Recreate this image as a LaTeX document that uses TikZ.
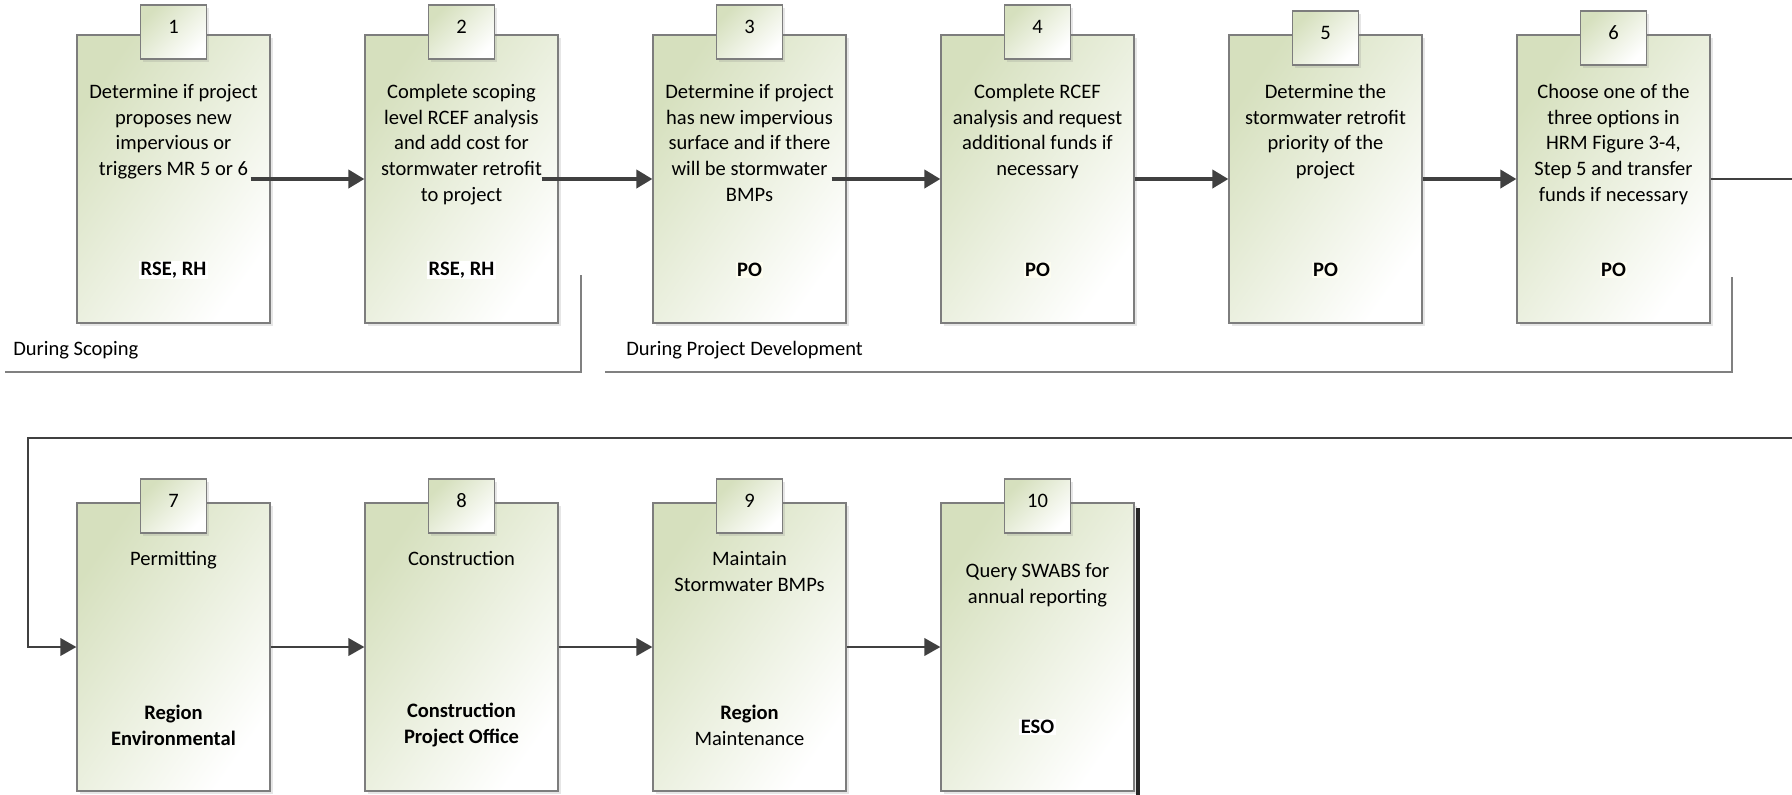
\documentclass[tikz,border=0pt]{standalone}
\usepackage{fontspec}
\setmainfont{Carlito}
\usetikzlibrary{arrows.meta,shadows}

\definecolor{cardgreen}{RGB}{214,224,190}
\definecolor{cardline}{RGB}{125,125,125}
\definecolor{flowgray}{RGB}{64,64,64}
\definecolor{bracketgray}{RGB}{128,128,128}
\definecolor{labfill}{RGB}{253,253,240}

\newcommand{\cardfont}{\fontsize{15.4pt}{19.3pt}\selectfont}

\tikzset{
  stepcard/.style={draw=cardline, line width=0.9pt, left color=cardgreen, right color=white,
    shading angle=55, minimum width=144.75pt, minimum height=216pt, inner sep=0pt,
    drop shadow={shadow xshift=2.5pt, shadow yshift=-2.5pt, opacity=0.2}},
  steptab/.style={draw=cardline, line width=0.9pt, left color=cardgreen, right color=white,
    shading angle=45, minimum width=49.5pt, minimum height=40.5pt, inner sep=0pt,
    text height=10pt, text depth=7.75pt, font=\cardfont,
    drop shadow={shadow xshift=2pt, shadow yshift=-2pt, opacity=0.2}},
  steptext/.style={align=center, anchor=north, inner sep=0pt, font=\cardfont},
  rolelabel/.style={align=center, inner sep=1pt, font=\cardfont\bfseries},
  phaselabel/.style={anchor=west, inner sep=0pt, font=\cardfont},
  flowarrow/.style={draw=flowgray, line width=2.8pt, -{Triangle[length=12pt,width=13.5pt]}},
  rowarrow/.style={draw=flowgray, line width=2pt, -{Triangle[length=12pt,width=13pt]}},
  bracket/.style={draw=bracketgray, line width=1.1pt}
}

\begin{document}
\begin{tikzpicture}[x=0.75pt,y=-0.75pt]
\useasboundingbox (0,0) rectangle (1792,794);

% Cards with number tabs
\foreach \n/\cx/\cy/\ty in {1/173.5/179/32, 2/461.5/179/32, 3/749.5/179/32,
    4/1037.5/179/32, 5/1325.5/179/38, 6/1613.5/179/38,
    7/173.5/647/506, 8/461.5/647/506, 9/749.5/647/506, 10/1037.5/647/506} {
  \node[stepcard] (b\n) at (\cx,\cy) {};
  \node[steptab] (t\n) at (\cx,\ty) {\n};
}

% First row texts
\node[steptext] (d1) at (173.5,84) {Determine if project\\proposes new\\impervious or\\triggers MR 5 or 6};
\node[steptext] (d2) at (461.5,84) {Complete scoping\\level RCEF analysis\\and add cost for\\stormwater retrofit\\to project};
\node[steptext] (d3) at (749.5,84) {Determine if project\\has new impervious\\surface and if there\\will be stormwater\\BMPs};
\node[steptext] (d4) at (1037.5,84) {Complete RCEF\\analysis and request\\additional funds if\\necessary};
\node[steptext] (d5) at (1325.5,84) {Determine the\\stormwater retrofit\\priority of the\\project};
\node[steptext] (d6) at (1613.5,84) {Choose one of the\\three options in\\HRM Figure 3-4,\\Step 5 and transfer\\funds if necessary};

\node[rolelabel, fill=white] (r1) at (173.5,270) {RSE, RH};
\node[rolelabel, fill=white] (r2) at (461.5,270) {RSE, RH};
\foreach \n/\cx in {3/749.5, 4/1037.5, 5/1325.5, 6/1613.5}
  \node[rolelabel, fill=labfill] (r\n) at (\cx,270) {PO};

% Second row texts
\node[steptext] (d7) at (173.5,551) {Permitting};
\node[steptext] (d8) at (461.5,551) {Construction};
\node[steptext] (d9) at (749.5,551) {Maintain\\Stormwater BMPs};
\node[steptext] (d10) at (1037.5,563) {Query SWABS for\\annual reporting};

\node[rolelabel] (r7) at (173.5,725) {Region\\Environmental};
\node[rolelabel] (r8) at (461.5,725) {Construction\\Project Office};
\node[rolelabel] (r9) at (749.5,725) {Region\\{\mdseries Maintenance}};
\node[rolelabel, fill=white] (r10) at (1037.5,727) {ESO};

% Phase brackets
\draw[bracket] (5,372) -- (581,372) -- (581,275);
\draw[bracket] (605,372) -- (1732,372) -- (1732,277);
\node[phaselabel] (p1) at (13,350) {During Scoping};
\node[phaselabel] (p2) at (626,350) {During Project Development};

% Flow
\draw[flowarrow, shorten <=-15pt] (b1) -- (b2);
\draw[flowarrow, shorten <=-12.75pt] (b2) -- (b3);
\draw[flowarrow, shorten <=-11.25pt] (b3) -- (b4);
\draw[flowarrow] (b4) -- (b5);
\draw[flowarrow] (b5) -- (b6);

\coordinate (loopR) at (1800,438);
\coordinate (loopL) at (28,438);
\draw[rowarrow] (b6.east) -| (loopR) -- (loopL) |- (b7.west);

\draw[rowarrow] (b7) -- (b8);
\draw[rowarrow] (b8) -- (b9);
\draw[rowarrow] (b9) -- (b10);

\draw[draw=black!85, line width=2.4pt] (1138,508) -- (1138,800);
\end{tikzpicture}
\end{document}
